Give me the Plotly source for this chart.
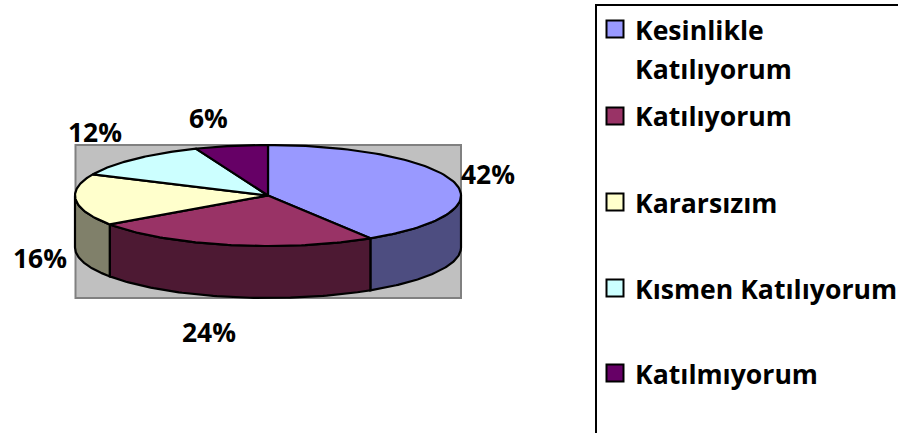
import numpy as np
import plotly.graph_objects as go

# --- data ---
categories = ["Kesinlikle", "Katılıyorum", "Katılıyorum", "Kararsızım", "Kısmen Katılıyorum", "Katılmıyorum"]
series_names = ["Kesinlikle Katılıyorum", "Katılıyorum", "Kararsızım", "Kısmen Katılıyorum", "Katılmıyorum"]
values = [41.1, 24.2, 16.6, 12.0, 6.1]
value_labels = ["42%", "24%", "16%", "12%", "6%"]
top_colors = ["#9999FF", "#993366", "#FFFFCC", "#CCFFFF", "#660066"]
side_colors = ["#4D4D80", "#4D1933", "#80806A", "#668080", "#330033"]

# --- layout constants (pixels) ---
W, H = 898, 433
CX, CY, RX, RY, DEPTH = 268, 195.5, 193, 50.5, 52
PLOT_BOX = (75.5, 145, 461, 298)
LABEL_POS = [(487.5, 174), (208.5, 332), (39.5, 258), (95, 132), (208.5, 118)]
LEGEND_MARK_X = 615
LEGEND_TEXT_X = 633
LEGEND_MARK_Y = [29, 116, 202, 288, 373]
LEGEND_TEXT_Y = [30, 69, 116, 203, 289, 374]
LEGEND_FONT = "Open Sans, sans-serif"
LABEL_FONT = "Open Sans, sans-serif"
LEGEND_FS = 26.6
LABEL_FS = 26.4


def arc(a0, a1, n=80):
    t = np.radians(np.linspace(a0, a1, n))
    return CX + RX * np.sin(t), CY - RY * np.cos(t)


fig = go.Figure()
outline = dict(color="black", width=2.2)

# plot-area background
x0, y0, x1, y1 = PLOT_BOX
fig.add_shape(type="rect", x0=x0, y0=y0, x1=x1, y1=y1,
              fillcolor="#C0C0C0", line=dict(color="#808080", width=2), layer="below")

edges = np.cumsum([0] + values) / sum(values) * 360

# side walls (front half of the disc only)
for i in range(len(values)):
    a0, a1 = max(edges[i], 90), min(edges[i + 1], 270)
    if a0 >= a1:
        continue
    ax, ay = arc(a0, a1)
    xs = np.r_[ax, ax[::-1]]
    ys = np.r_[ay, ay[::-1] + DEPTH]
    fig.add_trace(go.Scatter(x=np.r_[xs, xs[0]], y=np.r_[ys, ys[0]], mode="lines", fill="toself",
                             fillcolor=side_colors[i], line=outline, hoverinfo="skip"))

# top slices
for i in range(len(values)):
    ax, ay = arc(edges[i], edges[i + 1])
    fig.add_trace(go.Scatter(x=np.r_[CX, ax, CX], y=np.r_[CY, ay, CY], mode="lines", fill="toself",
                             fillcolor=top_colors[i], line=outline, name=series_names[i], hoverinfo="skip"))

# legend swatches
fig.add_trace(go.Scatter(x=[LEGEND_MARK_X] * len(series_names), y=LEGEND_MARK_Y, mode="markers",
                         marker=dict(symbol="square", size=17, color=top_colors,
                                     line=dict(color="black", width=2)), hoverinfo="skip"))

# legend frame: left and top edges visible, rest clipped by the page
fig.add_shape(type="rect", x0=596, y0=5, x1=W + 20, y1=H + 20, line=dict(color="black", width=2))

for (lx, ly), t in zip(LABEL_POS, value_labels):
    fig.add_annotation(x=lx, y=ly, text=t, showarrow=False, xanchor="center", yanchor="middle",
                       font=dict(family=LABEL_FONT, size=LABEL_FS, color="black", weight="bold"))
for ly, t in zip(LEGEND_TEXT_Y, categories):
    fig.add_annotation(x=LEGEND_TEXT_X, y=ly, text=t, showarrow=False, xanchor="left", yanchor="middle",
                       align="left", font=dict(family=LEGEND_FONT, size=LEGEND_FS, color="black", weight="bold"))

fig.update_layout(width=W, height=H, margin=dict(l=0, r=0, t=0, b=0), showlegend=False,
                  paper_bgcolor="white", plot_bgcolor="white",
                  xaxis=dict(visible=False, range=[0, W], fixedrange=True),
                  yaxis=dict(visible=False, range=[H, 0], fixedrange=True))
fig.write_html("out.html", config=dict(displayModeBar=False),
               post_script="document.body.style.margin='0';document.body.style.overflow='hidden';")
